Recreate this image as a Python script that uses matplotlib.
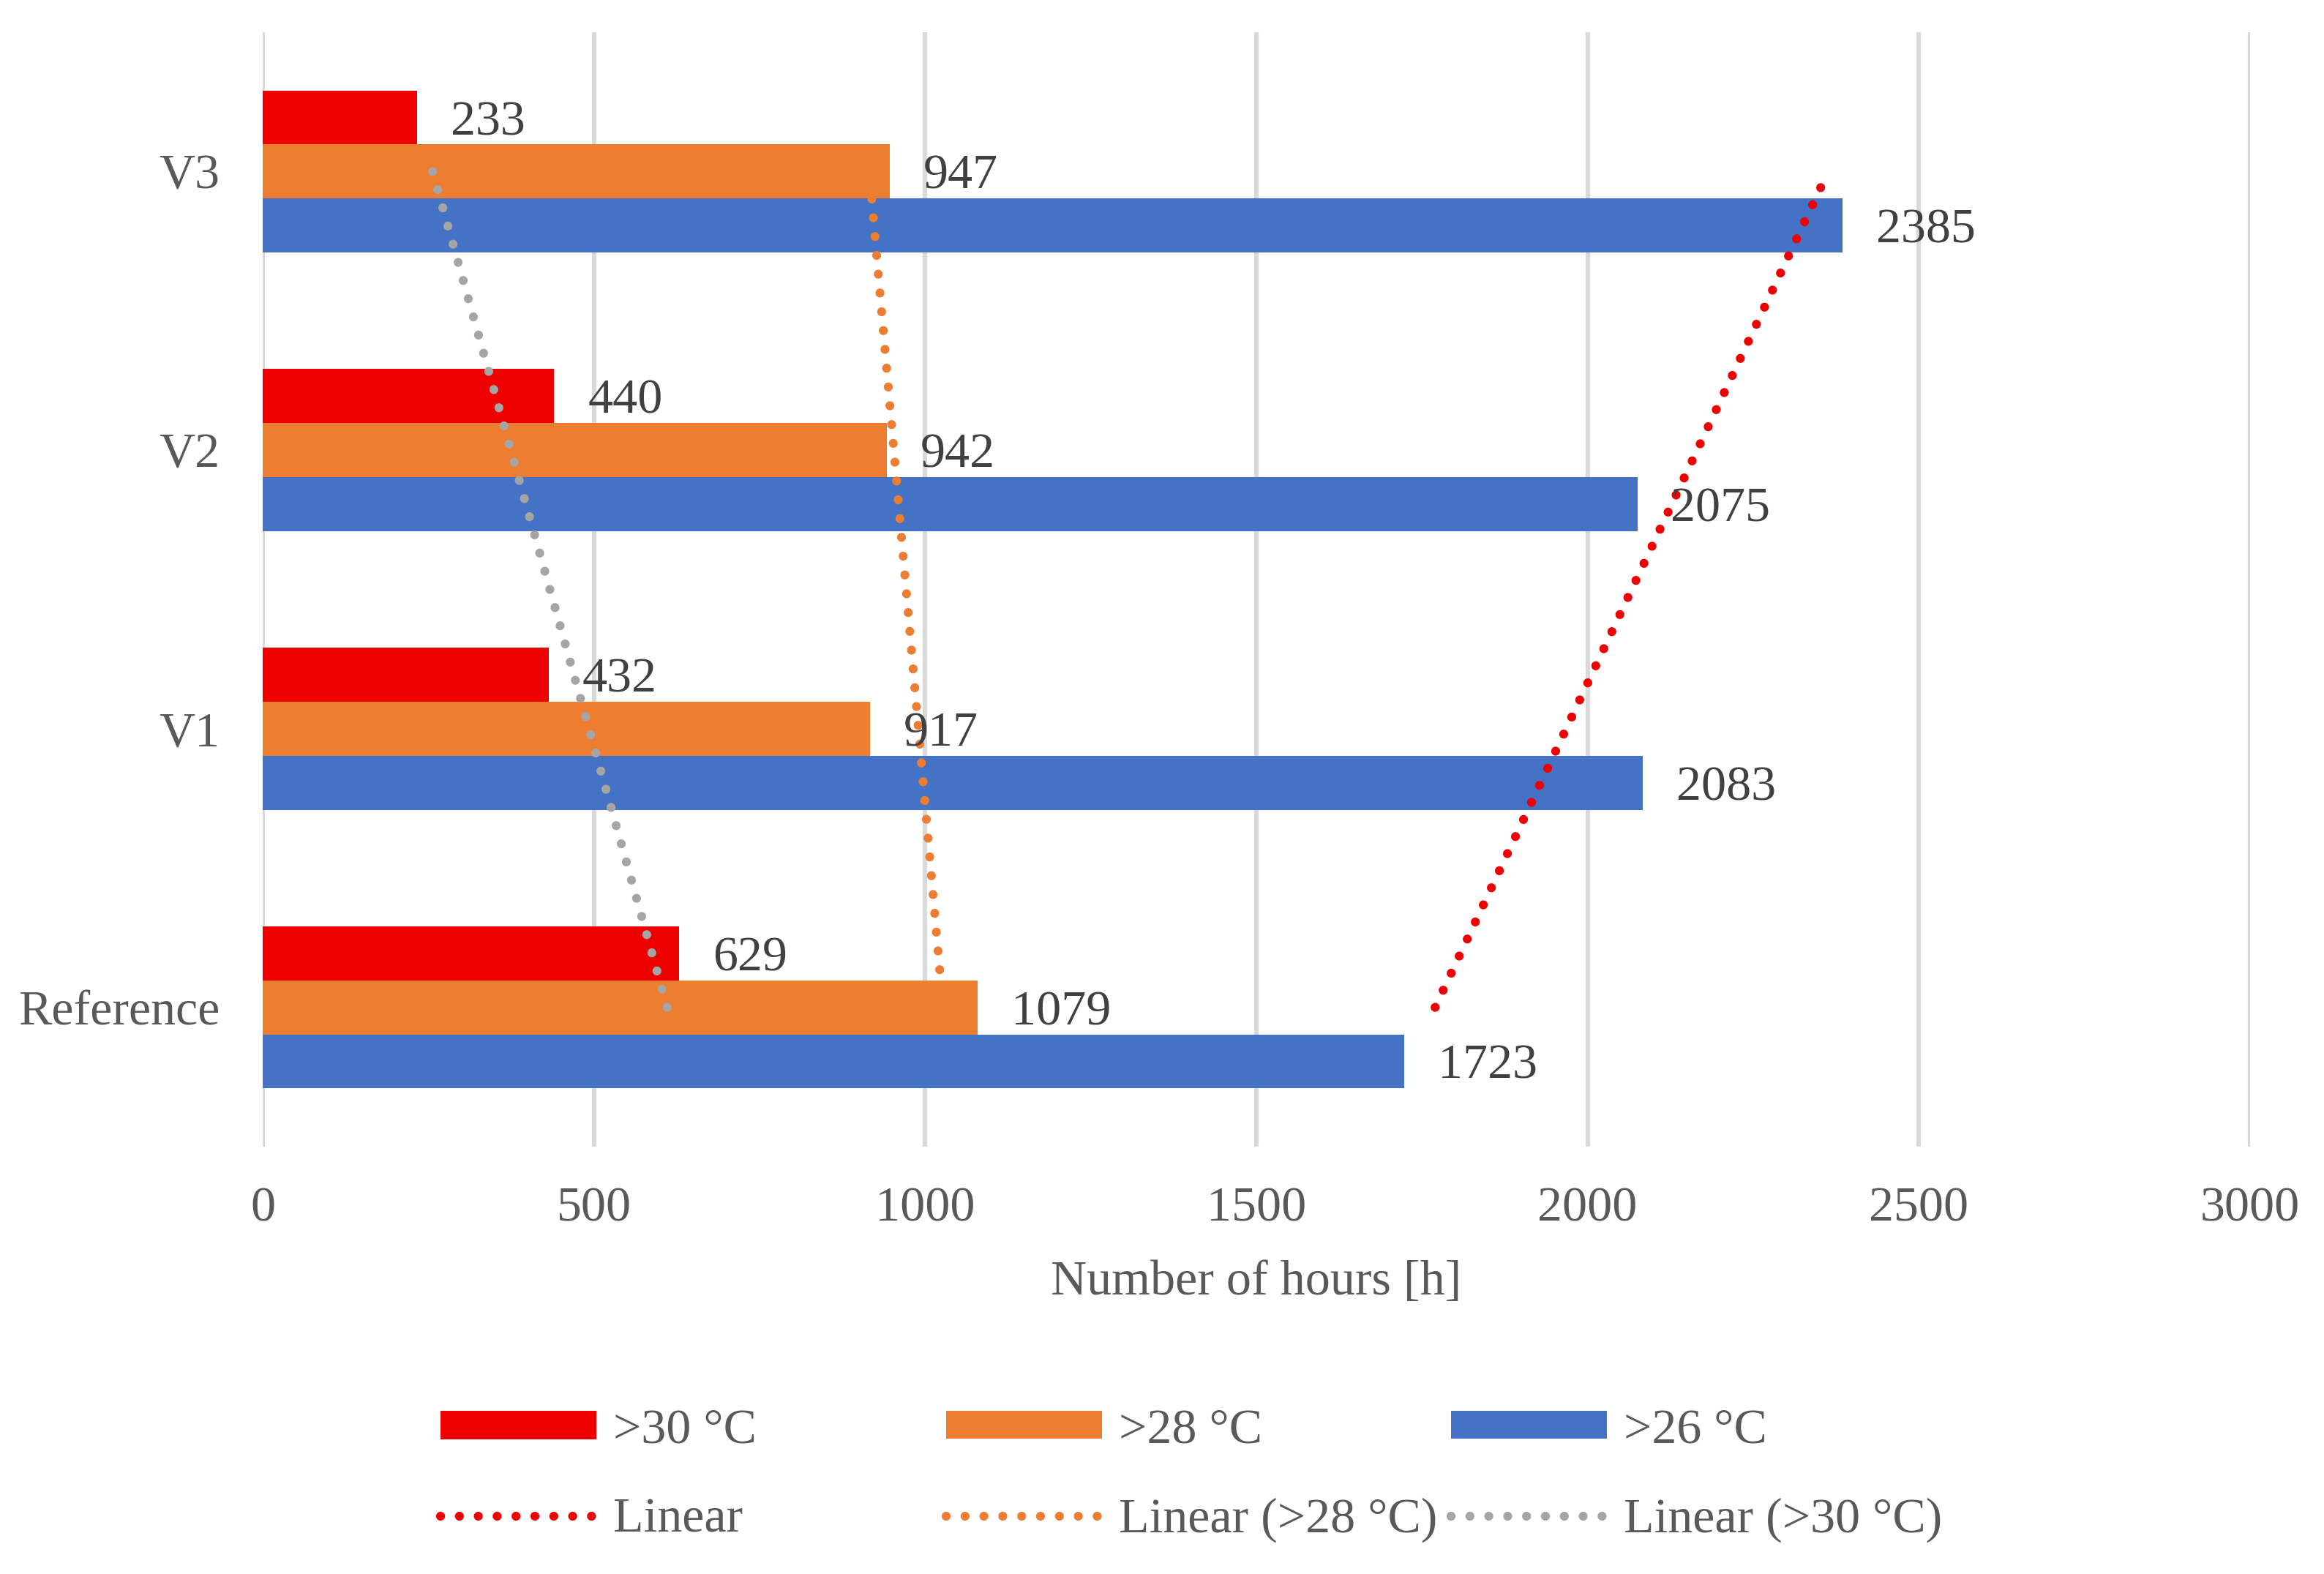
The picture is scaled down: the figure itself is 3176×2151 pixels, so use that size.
import numpy as np
import matplotlib
matplotlib.use("Agg")
import matplotlib.pyplot as plt
from matplotlib.patches import Patch
from matplotlib.lines import Line2D

# ---- data ----
categories = ["Reference", "V1", "V2", "V3"]
over30 = [629, 432, 440, 233]
over28 = [1079, 917, 942, 947]
over26 = [1723, 2083, 2075, 2385]
series_labels = [">30 °C", ">28 °C", ">26 °C"]
trend_labels = ["Linear", "Linear (>28 °C)", "Linear (>30 °C)"]
xticks = [0, 500, 1000, 1500, 2000, 2500, 3000]

# ---- style ----
FONT = "Liberation Serif"
FS = 24.5
plt.rcParams["font.family"] = [FONT, "DejaVu Serif"]
RED = "#EE0000"
ORANGE = "#ED7D31"
BLUE = "#4472C4"
GRAY = "#A5A5A5"
TXT = "#595959"
LBL = "#404040"

fig = plt.figure(figsize=(15.88, 10.755), dpi=200)
ax = fig.add_axes([0.11304, 0.27150, 0.85516, 0.70804])

pos = np.arange(len(categories))
h = 0.194

for xv in xticks:
    ax.axvline(xv, color="#D9D9D9", lw=2.2, zorder=0)

bars = [
    (over30, +h, RED),
    (over28, 0.0, ORANGE),
    (over26, -h, BLUE),
]
for vals, off, col in bars:
    ax.barh(pos + off, vals, height=h, color=col, zorder=2, linewidth=0)
    for p, v in zip(pos, vals):
        ax.annotate(str(v), xy=(v, p + off), xytext=(16.5, 0),
                    textcoords="offset points", ha="left", va="center_baseline",
                    fontsize=FS, color=LBL, zorder=4)

# trendlines (linear fits over category index)
dot_style = (0, (0.01, 2.1))
trend_specs = [(over26, RED), (over28, ORANGE), (over30, GRAY)]
for vals, col in trend_specs:
    k, b = np.polyfit(pos + 1, vals, 1)
    xs = k * (pos + 1) + b
    ax.plot([xs[0], xs[-1]], [pos[0], pos[-1]], color=col, lw=4.4,
            linestyle=dot_style, dash_capstyle="round", zorder=3)

ax.set_xlim(0, 3000)
ax.set_ylim(-0.5, 3.5)
ax.set_xticks(xticks)
ax.set_xticklabels([str(t) for t in xticks])
ax.set_yticks(pos)
ax.set_yticklabels(categories)
for s in ax.spines.values():
    s.set_visible(False)
ax.tick_params(axis="both", length=0, labelsize=FS, labelcolor=TXT)
ax.tick_params(axis="x", pad=19.5)
ax.tick_params(axis="y", pad=21)
ax.set_xlabel("Number of hours [h]", fontsize=FS, color=TXT, labelpad=14.3)

# legend: three columns placed individually
patch_cols = [RED, ORANGE, BLUE]
line_cols = [RED, ORANGE, GRAY]
col_x = [602 / 3176, 1293 / 3176, 1983 / 3176]
leg_y = 1 - 2016 / 2151
for i in range(3):
    handles = [
        Patch(facecolor=patch_cols[i], edgecolor="none", label=series_labels[i]),
        Line2D([0], [0], color=line_cols[i], lw=4.4, linestyle=dot_style,
               dash_capstyle="round", label=trend_labels[i]),
    ]
    fig.legend(handles=handles, loc="center left",
               bbox_to_anchor=(col_x[i], leg_y), frameon=False,
               fontsize=FS, handlelength=3.13, handleheight=0.5,
               handletextpad=0.34, labelspacing=0.9, borderpad=0,
               borderaxespad=0, labelcolor=TXT)

fig.savefig("out.png", dpi=200, facecolor="white")
